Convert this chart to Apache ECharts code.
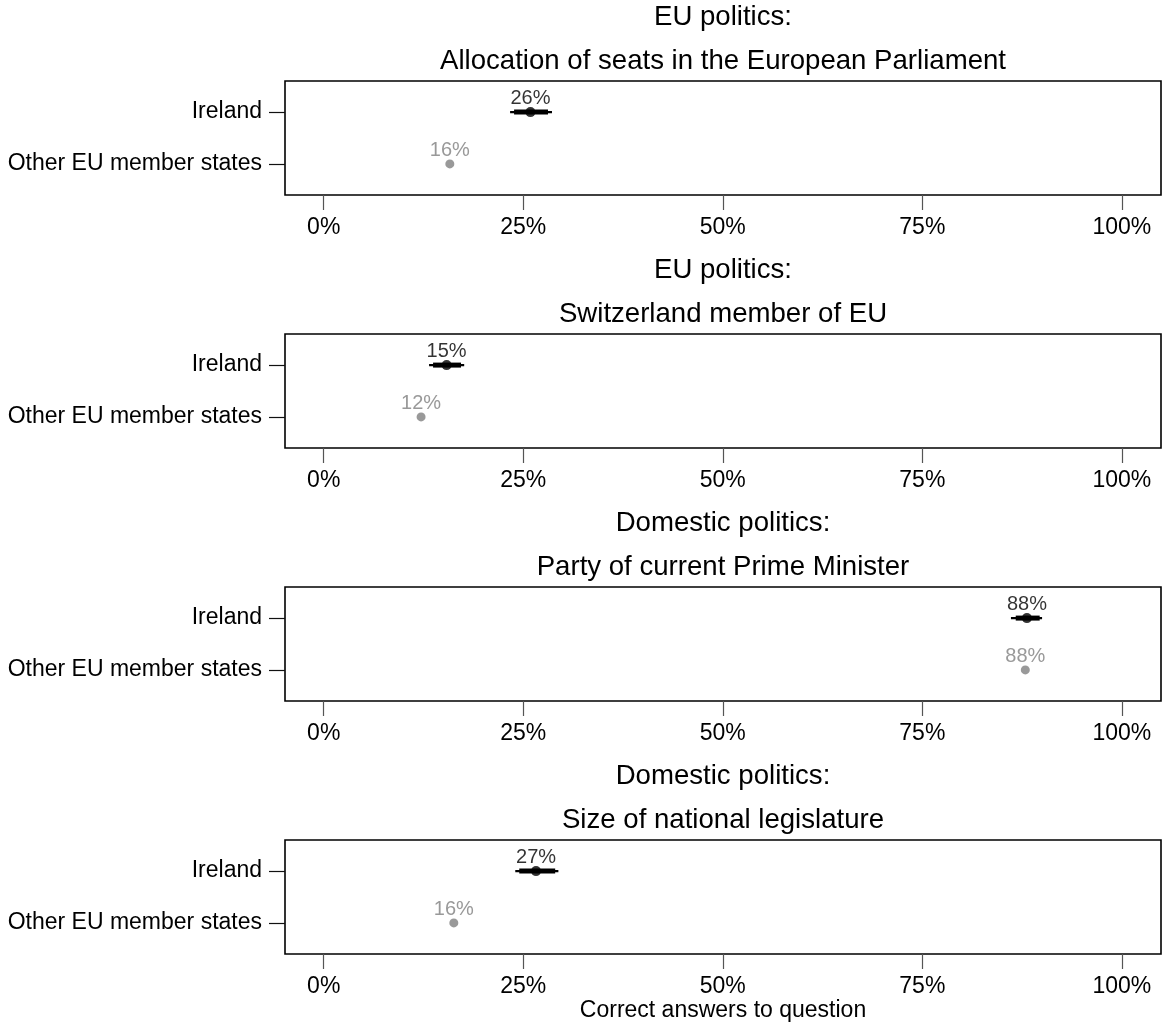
<!DOCTYPE html>
<html>
<head>
<meta charset="utf-8">
<script src="https://cdn.jsdelivr.net/npm/echarts@6/dist/echarts.min.js"></script>
<style>
  html, body { margin: 0; padding: 0; background: #fff; }
  #chart { width: 1162px; height: 1024px; }
</style>
</head>
<body>
<div id="chart"></div>
<script>
// Panel headings (two lines each)
const panelGroups = ['EU politics:', 'EU politics:', 'Domestic politics:', 'Domestic politics:'];
const panelQuestions = [
  'Allocation of seats in the European Parliament',
  'Switzerland member of EU',
  'Party of current Prime Minister',
  'Size of national legislature'
];
const rowLabels = ['Ireland', 'Other EU member states'];
const xTicks = [0, 25, 50, 75, 100];
const xTitle = 'Correct answers to question';

// Share of correct answers (%)
const irelandValues = [25.9, 15.4, 88.1, 26.6];
const otherValues = [15.8, 12.2, 87.9, 16.3];
// Ireland intervals: outer (thin) and inner (thick) bounds
const irelandOuterLow = [23.35, 13.2, 86.1, 24.0];
const irelandOuterHigh = [28.6, 17.6, 90.0, 29.4];
const irelandInnerLow = [23.85, 13.7, 86.7, 24.5];
const irelandInnerHigh = [28.1, 17.2, 89.7, 29.0];

const FONT = '"Liberation Sans", Arial, Helvetica, sans-serif';
const ROW_IRELAND = 2, ROW_OTHER = 1;

const chart = echarts.init(document.getElementById('chart'), null, { renderer: 'canvas' });

const grids = [], xAxes = [], yAxes = [], series = [], graphics = [];
const gridLeft = 285, gridWidth = 876, gridHeight = 114, firstTop = 81, step = 253;

panelQuestions.forEach((q, i) => {
  const top = firstTop + i * step;
  grids.push({
    left: gridLeft, top: top, width: gridWidth, height: gridHeight,
    show: true, borderColor: '#000', borderWidth: 1.6, backgroundColor: 'transparent'
  });
  xAxes.push({
    gridIndex: i, type: 'value', min: -4.85, max: 104.9, position: 'bottom',
    splitLine: { show: false },
    axisLine: { show: false, onZero: false },
    axisTick: { show: true, customValues: xTicks, length: 15, lineStyle: { color: '#555', width: 1.2 } },
    axisLabel: {
      customValues: xTicks, margin: 21, color: '#000',
      fontFamily: FONT, fontSize: 23,
      formatter: v => v + '%'
    }
  });
  yAxes.push({
    gridIndex: i, type: 'value', min: 0.4, max: 2.6, position: 'left',
    splitLine: { show: false },
    axisLine: { show: false, onZero: false },
    axisTick: { show: true, customValues: [ROW_OTHER, ROW_IRELAND], length: 16, lineStyle: { color: '#111', width: 1.2 } },
    axisLabel: {
      customValues: [ROW_OTHER, ROW_IRELAND], margin: 23, color: '#000',
      fontFamily: FONT, fontSize: 23,
      formatter: v => (v === ROW_IRELAND ? rowLabels[0] : rowLabels[1])
    }
  });

  // Ireland interval bars: thin outer, thick inner
  series.push({
    type: 'custom', xAxisIndex: i, yAxisIndex: i, silent: true,
    data: [[ROW_IRELAND, irelandOuterLow[i], irelandOuterHigh[i], irelandInnerLow[i], irelandInnerHigh[i]]],
    encode: { x: [1, 2, 3, 4], y: 0 },
    renderItem: (params, api) => {
      const y = api.value(0);
      const a = api.coord([api.value(1), y]);
      const b = api.coord([api.value(2), y]);
      const c = api.coord([api.value(3), y]);
      const d = api.coord([api.value(4), y]);
      return {
        type: 'group',
        children: [
          { type: 'line', shape: { x1: a[0], y1: a[1], x2: b[0], y2: b[1] }, style: { stroke: '#000', lineWidth: 2.2 } },
          { type: 'line', shape: { x1: c[0], y1: c[1], x2: d[0], y2: d[1] }, style: { stroke: '#000', lineWidth: 5 } }
        ]
      };
    },
    z: 2
  });

  // Ireland point estimate
  series.push({
    type: 'scatter', xAxisIndex: i, yAxisIndex: i, silent: true,
    data: [[irelandValues[i], ROW_IRELAND]],
    symbol: 'circle', symbolSize: 10,
    itemStyle: { color: '#000' },
    label: {
      show: true, position: 'top', distance: -1, color: '#000',
      fontFamily: FONT, fontSize: 20,
      formatter: p => Math.round(p.value[0]) + '%'
    },
    z: 3
  });

  // Other member states point
  series.push({
    type: 'scatter', xAxisIndex: i, yAxisIndex: i, silent: true,
    data: [[otherValues[i], ROW_OTHER]],
    symbol: 'circle', symbolSize: 9,
    itemStyle: { color: '#808080' },
    label: {
      show: true, position: 'top', distance: -1, color: '#808080',
      fontFamily: FONT, fontSize: 20,
      formatter: p => Math.round(p.value[0]) + '%'
    },
    z: 3
  });

  const cx = gridLeft + gridWidth / 2;
  graphics.push({
    type: 'text', x: cx, y: top - 64,
    style: { text: panelGroups[i], x: 0, y: 0, align: 'center', verticalAlign: 'middle', font: '27.6px ' + FONT, fill: '#000' }
  });
  graphics.push({
    type: 'text', x: cx, y: top - 20,
    style: { text: q, x: 0, y: 0, align: 'center', verticalAlign: 'middle', font: '27.6px ' + FONT, fill: '#000' }
  });
});

graphics.push({
  type: 'text', x: gridLeft + gridWidth / 2, y: 1011,
  style: { text: xTitle, x: 0, y: 0, align: 'center', verticalAlign: 'middle', font: '23px ' + FONT, fill: '#000' }
});

chart.setOption({
  animation: false,
  backgroundColor: '#fff',
  grid: grids,
  xAxis: xAxes,
  yAxis: yAxes,
  series: series,
  graphic: graphics
});
</script>
</body>
</html>
